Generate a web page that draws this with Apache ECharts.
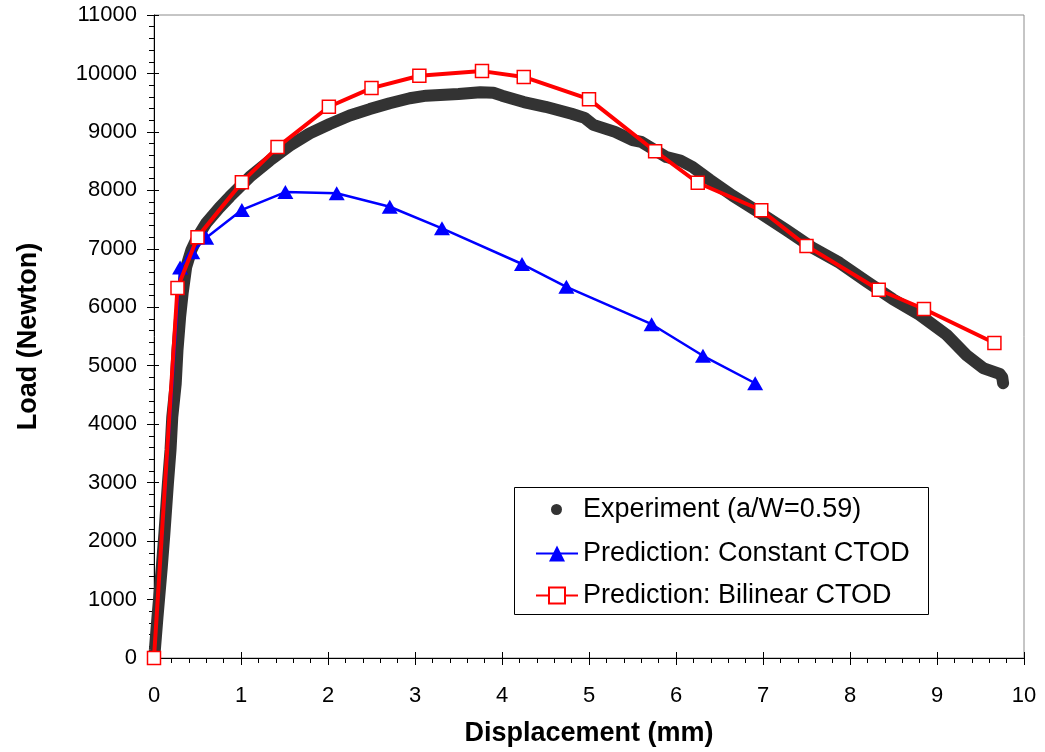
<!DOCTYPE html>
<html>
<head>
<meta charset="utf-8">
<script src="https://cdn.jsdelivr.net/npm/echarts@6/dist/echarts.min.js"></script>
<style>
  html, body { margin: 0; padding: 0; background: #fff; }
  #chart { width: 1045px; height: 752px; }
</style>
</head>
<body>
<div id="chart"></div>
<script>
// ---- Data ----
const expName = 'Experiment (a/W=0.59)';
const constName = 'Prediction: Constant CTOD';
const bilinName = 'Prediction: Bilinear CTOD';

const expX = [0.00, 0.01, 0.04, 0.09, 0.12, 0.16, 0.19, 0.21, 0.25, 0.27, 0.30, 0.33, 0.37, 0.43, 0.50,
  0.60, 0.75, 0.87, 1.10, 1.33, 1.56, 1.79, 2.02, 2.25, 2.48, 2.71, 2.94, 3.13, 3.50, 3.75, 3.90,
  4.00, 4.25, 4.50, 4.80, 4.95, 5.05, 5.30, 5.50, 5.60, 5.89, 6.05, 6.19, 6.39, 6.65, 6.97, 7.27,
  7.57, 7.88, 8.19, 8.49, 8.80, 9.11, 9.34, 9.53, 9.72, 9.75, 9.76];
const expY = [0, 140, 700, 1560, 2140, 2990, 3560, 4120, 4700, 5270, 5830, 6250, 6690, 6980, 7200,
  7440, 7700, 7890, 8230, 8510, 8765, 8975, 9135, 9280, 9390, 9490, 9575, 9620, 9650, 9680, 9670,
  9620, 9510, 9430, 9310, 9240, 9120, 9000, 8860, 8830, 8570, 8510, 8400, 8180, 7910, 7610, 7320,
  7020, 6760, 6440, 6140, 5870, 5530, 5180, 4960, 4860, 4800, 4700];

const constX = [0, 0.30, 0.44, 0.60, 1.01, 1.51, 2.10, 2.71, 3.31, 4.23, 4.74, 5.72, 6.31, 6.91];
const constY = [0, 6680, 6940, 7190, 7665, 7970, 7950, 7720, 7350, 6740, 6350, 5710, 5170, 4700];

const bilinX = [0, 0.27, 0.50, 1.01, 1.42, 2.01, 2.50, 3.05, 3.77, 4.25, 5.00, 5.76, 6.25, 6.98, 7.50, 8.33, 8.85, 9.66];
const bilinY = [0, 6330, 7200, 8140, 8740, 9430, 9750, 9960, 10040, 9940, 9560, 8670, 8130, 7660, 7050, 6300, 5970, 5390];

const xTicks = { min: 0, max: 10, interval: 1 };
const yTicks = { min: 0, max: 11000, interval: 1000 };

// ---- Build ----
const zip = (xs, ys) => xs.map((x, i) => [x, ys[i]]);
const expData = zip(expX, expY);
const constData = zip(constX, constY).map((p) => (p[0] === 0 && p[1] === 0) ? { value: p, symbol: 'none' } : p);
const bilinData = zip(bilinX, bilinY);

const FONT = 'Liberation Sans, Arial, Helvetica, sans-serif';
const plain = (v) => String(v);

const chart = echarts.init(document.getElementById('chart'), null, { renderer: 'canvas' });

const option = {
  animation: false,
  backgroundColor: '#fff',
  textStyle: { fontFamily: FONT, color: '#000' },
  grid: {
    left: 154, right: 21, top: 15, bottom: 94,
    show: true, borderColor: '#8c8c8c', borderWidth: 1, backgroundColor: 'transparent'
  },
  xAxis: [{
    type: 'value', position: 'bottom',
    min: xTicks.min, max: xTicks.max, interval: xTicks.interval,
    name: 'Displacement (mm)', nameLocation: 'middle', nameGap: 62,
    nameTextStyle: { fontSize: 27, fontWeight: 'bold', color: '#000', fontFamily: FONT },
    axisLine: { show: true, lineStyle: { color: '#000', width: 1 } },
    axisTick: { show: true, inside: false, length: 7, lineStyle: { color: '#000' } },
    minorTick: { show: true, splitNumber: 5, length: 5, lineStyle: { color: '#000' } },
    axisLabel: { fontSize: 22, color: '#000', margin: 27, fontFamily: FONT, formatter: plain },
    splitLine: { show: false }
  }, {
    type: 'value', position: 'bottom',
    min: xTicks.min, max: xTicks.max, interval: xTicks.interval,
    axisLine: { show: false },
    axisTick: { show: true, inside: true, length: 6, lineStyle: { color: '#000' } },
    axisLabel: { show: false },
    splitLine: { show: false }
  }],
  yAxis: [{
    type: 'value', position: 'left',
    min: yTicks.min, max: yTicks.max, interval: yTicks.interval,
    name: 'Load (Newton)', nameLocation: 'middle', nameGap: 112,
    nameTextStyle: { fontSize: 27, fontWeight: 'bold', color: '#000', fontFamily: FONT },
    axisLine: { show: true, lineStyle: { color: '#000', width: 1 } },
    axisTick: { show: true, inside: false, length: 7, lineStyle: { color: '#000' } },
    minorTick: { show: true, splitNumber: 5, length: 5, lineStyle: { color: '#000' } },
    axisLabel: { fontSize: 22, color: '#000', margin: 17, fontFamily: FONT, formatter: plain },
    splitLine: { show: false }
  }, {
    type: 'value', position: 'left', offset: 0,
    min: yTicks.min, max: yTicks.max, interval: yTicks.interval,
    axisLine: { show: false },
    axisTick: { show: true, inside: true, length: 5, lineStyle: { color: '#000' } },
    axisLabel: { show: false },
    splitLine: { show: false }
  }],
  legend: [{
    data: [{ name: expName, icon: 'circle' }],
    orient: 'vertical', left: 551, top: 496, padding: 0,
    itemWidth: 11, itemHeight: 11,
    textStyle: { fontSize: 27, color: '#000', fontFamily: FONT, lineHeight: 27, padding: [0, 0, 0, 16] },
    selectedMode: false
  }, {
    data: [constName, bilinName],
    orient: 'vertical', left: 535, top: 540, padding: 0,
    itemWidth: 42, itemHeight: 20, itemGap: 15,
    textStyle: { fontSize: 27, color: '#000', fontFamily: FONT, lineHeight: 27 },
    selectedMode: false
  }],
  graphic: [{
    type: 'rect', z: 3,
    shape: { x: 514.5, y: 487.5, width: 414, height: 127 },
    style: { fill: '#fff', stroke: '#000', lineWidth: 1 }
  }],
  series: [{
    name: expName, type: 'line', data: expData,
    xAxisIndex: 0, yAxisIndex: 0,
    showSymbol: false, symbol: 'circle',
    color: '#333333',
    itemStyle: { color: '#333333' },
    lineStyle: { color: '#333333', width: 12, cap: 'round', join: 'round' },
    emphasis: { disabled: true }, z: 2
  }, {
    name: constName, type: 'line', data: constData,
    xAxisIndex: 0, yAxisIndex: 0,
    symbol: 'triangle', symbolSize: [16, 14],
    color: '#0000ff',
    itemStyle: { color: '#0000ff' },
    lineStyle: { color: '#0000ff', width: 2.5 },
    emphasis: { disabled: true }, z: 3
  }, {
    name: bilinName, type: 'line', data: bilinData,
    xAxisIndex: 0, yAxisIndex: 0,
    symbol: 'rect', symbolSize: 13,
    color: '#ff0000',
    itemStyle: { color: '#ffffff', borderColor: '#ff0000', borderWidth: 1.5 },
    lineStyle: { color: '#ff0000', width: 4 },
    emphasis: { disabled: true }, z: 4
  }]
};

chart.setOption(option);
</script>
</body>
</html>
